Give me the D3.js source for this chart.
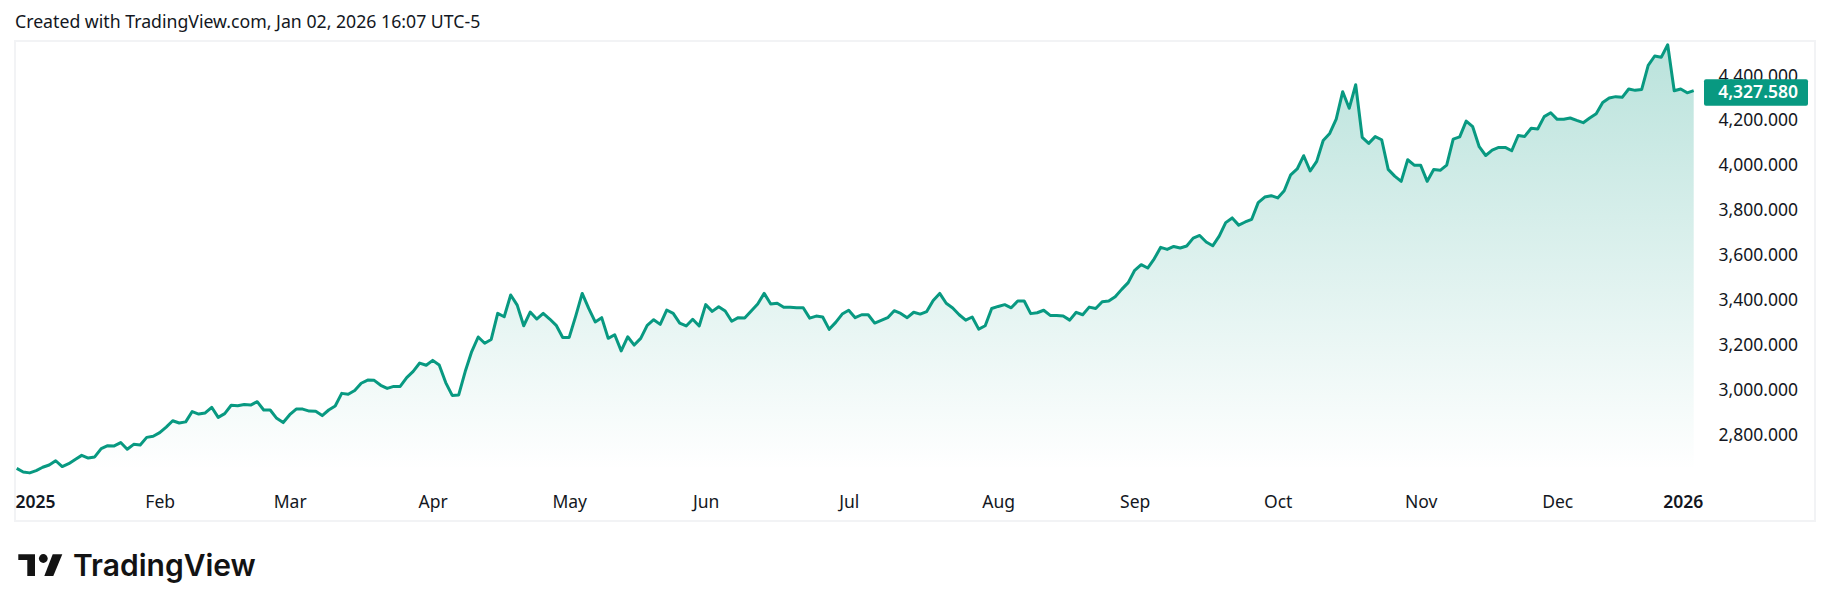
<!DOCTYPE html>
<html>
<head>
  <meta charset="UTF-8">
  <title>TradingView area chart</title>
  <style>
    body { margin: 0; background: #fff; }
    text { font-family: "Noto Sans", sans-serif; fill: #131722; }
    .tick text { font-size: 17.5px; }
    .axis .domain, .axis line { display: none; }
  </style>
</head>
<body>
<svg id="chart"></svg>
<script src="https://d3js.org/d3.v7.min.js"></script>
<script>
// daily closes, one per session
const closes = [
  2646,2630,2626,2636,2651,2661,2680,2654,2667,2686,2704,2692,2697,2734,2747,2746,2761,2731,2753,2750,
  2784,2789,2805,2830,2858,2848,2853,2899,2888,2893,2918,2873,2890,2927,2925,2930,
  2928,2943,2906,2906,2869,2850,2885,2910,2910,2901,2900,2881,2906,2924,2980,2976,2993,3025,3039,3038,
  3016,3002,3011,3011,3050,3078,3115,3105,3127,3106,3028,2971,2973,3077,3166,3231,3203,
  3220,3336,3321,3418,3373,3281,3342,3311,3336,3311,3283,3229,3229,3324,3425,3358,3298,3317,3225,3241,
  3169,3232,3195,3225,3283,3308,3287,3351,3336,3293,3280,3310,3280,3375,3345,3366,3347,
  3301,3317,3315,3347,3378,3425,3378,3381,3363,3363,3361,3361,3315,3324,3320,3265,3296,3333,3350,3317,
  3330,3330,3293,3305,3317,3348,3336,3317,3341,3333,3344,3393,3425,3381,3360,3330,3306,
  3320,3266,3281,3358,3367,3375,3361,3391,3391,3335,3339,3350,3327,3327,3324,3306,3341,3330,3364,3358,
  3388,3391,3410,3443,3473,3528,3553,3538,3579,3630,3621,3634,3627,3636,3671,3683,3654,
  3637,3680,3740,3761,3729,3743,3755,3829,3854,3860,3850,3882,3953,3979,4038,3970,4013,4106,4137,4201,
  4323,4249,4354,4120,4093,4123,4109,3977,3947,3924,4020,3996,3995,3924,3977,3973,3996,
  4112,4122,4192,4167,4078,4039,4063,4075,4075,4060,4128,4124,4160,4157,4212,4229,4200,4200,4206,4195,
  4185,4206,4225,4275,4295,4301,4298,4335,4329,4333,4440,4482,4476,4532,4327,4335,4318,4327.58
];
const monthLabels = ["2025","Feb","Mar","Apr","May","Jun","Jul","Aug","Sep","Oct","Nov","Dec","2026"];
const monthIndex = [0,22,42,64,85,106,128,151,172,194,216,237,256];
const priceTicks = [2800,3000,3200,3400,3600,3800,4000,4200,4400];
const lastPrice = closes[closes.length - 1];

const width = 1830, height = 611;
const accent = "#089981";

const svg = d3.select("#chart").attr("width", width).attr("height", height);

const x = d3.scaleLinear().domain([0, closes.length - 1]).range([16.7, 1693.7]);
const y = d3.scaleLinear().domain([2800, 4400]).range([433.8, 74.4]);
const plotBottom = 470;
const fmt = d3.format(",.3f");

svg.append("text")
  .attr("x", 15).attr("y", 28)
  .style("font-size", "17.7px")
  .text("Created with TradingView.com, Jan 02, 2026 16:07 UTC-5");

// frame
svg.append("rect")
  .attr("x", 15).attr("y", 41).attr("width", 1800).attr("height", 480)
  .attr("fill", "none").attr("stroke", "#f2f3f5").attr("stroke-width", 2);

const defs = svg.append("defs");
const grad = defs.append("linearGradient")
  .attr("id", "areaFill")
  .attr("gradientUnits", "userSpaceOnUse")
  .attr("x1", 0).attr("x2", 0).attr("y1", 44).attr("y2", plotBottom);
grad.append("stop").attr("offset", 0).attr("stop-color", accent).attr("stop-opacity", 0.28);
grad.append("stop").attr("offset", 1).attr("stop-color", accent).attr("stop-opacity", 0);

const area = d3.area().x((d, i) => x(i)).y0(plotBottom).y1(d => y(d));
const line = d3.line().x((d, i) => x(i)).y(d => y(d));

svg.append("path").datum(closes)
  .attr("d", area).attr("fill", "url(#areaFill)");
svg.append("path").datum(closes)
  .attr("d", line).attr("fill", "none")
  .attr("stroke", accent).attr("stroke-width", 3).attr("stroke-linejoin", "round");

// time axis
const xAxis = svg.append("g")
  .attr("class", "axis")
  .attr("transform", "translate(0,495.5)")
  .call(d3.axisBottom(x).tickValues(monthIndex).tickSize(0).tickPadding(0)
    .tickFormat((d, i) => monthLabels[i]));
xAxis.selectAll("text")
  .style("font-weight", (d, i) => (i == 0 || i == monthLabels.length - 1) ? 600 : 400);
xAxis.selectAll(".tick").filter((d, i) => i == 0).select("text")
  .attr("text-anchor", "start").attr("x", -1.7);
xAxis.selectAll(".tick").filter((d, i) => i == monthLabels.length - 1).select("text")
  .attr("x", 2);

// price axis
svg.append("g")
  .attr("class", "axis")
  .attr("transform", "translate(1798,1)")
  .call(d3.axisLeft(y).tickValues(priceTicks).tickSize(0).tickPadding(0).tickFormat(fmt));

// last price badge
svg.append("rect")
  .attr("x", 1704).attr("y", y(lastPrice) - 11.5)
  .attr("width", 104).attr("height", 26.5).attr("rx", 2)
  .attr("fill", accent);
svg.append("text")
  .attr("x", 1798).attr("y", y(lastPrice) + 1.5).attr("dy", "0.35em")
  .attr("text-anchor", "end")
  .style("fill", "#fff").style("font-size", "17.5px").style("font-weight", 600)
  .text(fmt(lastPrice));

// logo
const logo = svg.append("g").attr("fill", "#131313");
logo.append("path").attr("d", "M18.3 554.3H35V576H27.3V560H18.3Z");
logo.append("circle").attr("cx", 43.3).attr("cy", 558.5).attr("r", 4.4);
logo.append("path").attr("d", "M52.7 554.3H62.3L53.3 576H44.3Z");
svg.append("text")
  .attr("x", 73).attr("y", 576)
  .style("font-family", "Inter").style("font-weight", 600).style("font-size", "30px")
  .style("fill", "#131313")
  .text("TradingView");
</script>
</body>
</html>
